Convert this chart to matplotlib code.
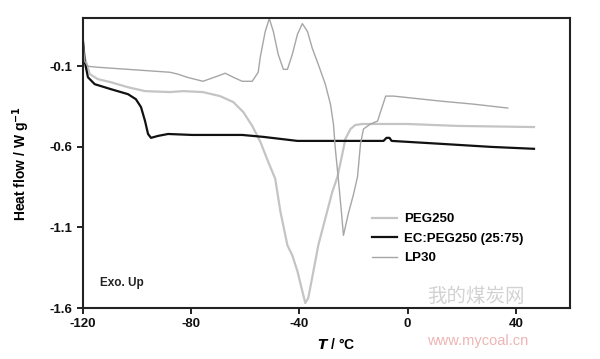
import matplotlib
matplotlib.use("Agg")
import matplotlib.pyplot as plt

# PEG250 (light grey, broad melting dip near -37 C)
peg_t = [-120, -119.3, -117.4, -114.4, -109.6, -103.3, -97.0, -87.8, -83.0, -75.6,
         -69.3, -64.4, -60.7, -57.4, -54.4, -51.5, -48.9, -47.0, -44.4, -42.6,
         -40.7, -38.9, -37.8, -36.7, -34.8, -33.0, -30.4, -27.8, -25.9, -24.1,
         -23.0, -21.1, -19.3, -16.7, 0.0, 18.5, 46.7]
peg_v = [0.067, -0.044, -0.149, -0.180, -0.199, -0.230, -0.254, -0.260, -0.254, -0.260,
         -0.285, -0.322, -0.384, -0.470, -0.569, -0.693, -0.798, -1.001, -1.211, -1.273,
         -1.372, -1.495, -1.569, -1.538, -1.372, -1.211, -1.044, -0.878, -0.785, -0.643,
         -0.551, -0.489, -0.464, -0.458, -0.458, -0.470, -0.477]

# EC:PEG250 (25:75), black
ec_t = [-120, -119.3, -118.1, -115.6, -109.6, -103.3, -100.4, -98.5, -97.0, -95.9,
        -94.8, -92.2, -88.5, -79.6, -61.1, -53.3, -40.7, -21.1, -8.9, -7.8,
        -6.7, -5.9, 12.2, 30.7, 46.7]
ec_v = [0.067, -0.069, -0.168, -0.211, -0.242, -0.273, -0.304, -0.353, -0.440, -0.520,
        -0.544, -0.532, -0.520, -0.526, -0.526, -0.538, -0.563, -0.563, -0.563, -0.544,
        -0.544, -0.563, -0.581, -0.600, -0.612]

# LP30 (mid grey, two exothermic peaks and a melting dip)
lp_t = [-120, -119.3, -118.1, -114.4, -103.3, -87.8, -84.8, -81.5, -75.6, -70.4,
        -67.4, -64.4, -61.1, -57.4, -55.2, -54.4, -52.6, -51.1, -49.6, -47.8,
        -45.9, -44.4, -42.6, -40.7, -38.9, -37.0, -35.2, -33.0, -30.4, -28.5,
        -27.4, -26.7, -25.6, -24.4, -23.7, -21.9, -20.0, -18.5, -17.4, -16.3,
        -13.7, -11.1, -8.1, -5.2, 12.2, 24.4, 37.0]
lp_v = [0.067, -0.069, -0.100, -0.106, -0.119, -0.137, -0.149, -0.168, -0.193, -0.162,
        -0.143, -0.168, -0.193, -0.193, -0.137, -0.040, 0.116, 0.196, 0.116, -0.026,
        -0.119, -0.119, -0.026, 0.098, 0.165, 0.116, 0.011, -0.088, -0.211, -0.335,
        -0.458, -0.612, -0.798, -1.014, -1.149, -1.014, -0.896, -0.785, -0.581, -0.489,
        -0.458, -0.440, -0.285, -0.285, -0.316, -0.335, -0.359]

x_ticks = [-120, -80, -40, 0, 40]
y_ticks = [-1.6, -1.1, -0.6, -0.1]

plt.rcParams['font.family'] = ['Liberation Sans', 'DejaVu Sans']
plt.rcParams['font.weight'] = 'bold'

fig = plt.figure(figsize=(6, 3.59), dpi=100)
ax = fig.add_axes([0.138, 0.142, 0.812, 0.808])

ax.plot(peg_t, peg_v, color='#c4c4c4', lw=1.6, label='PEG250')
ax.plot(ec_t, ec_v, color='#111111', lw=1.6, label='EC:PEG250 (25:75)')
ax.plot(lp_t, lp_v, color='#a6a6a6', lw=1.0, label='LP30')

ax.set_xlim(-120, 60)
ax.set_ylim(-1.6, 0.2)
ax.set_xticks(x_ticks)
ax.set_yticks(y_ticks)
ax.set_xticklabels([str(t) for t in x_ticks], fontsize=9.5, fontweight='bold')
ax.set_yticklabels([str(t) for t in y_ticks], fontsize=9.5, fontweight='bold')
ax.tick_params(direction='out', length=4, width=1.3, colors='#111111')
for s in ax.spines.values():
    s.set_linewidth(1.5)
    s.set_color('#222222')

ax.set_ylabel('Heat flow / W g$^{\\mathbf{-1}}$', fontsize=10, fontweight='bold')
ax.yaxis.set_label_coords(-0.105, 0.5)
ax.set_xlabel('$\\mathbfit{T}$ / °C', fontsize=10, fontweight='bold')
ax.xaxis.set_label_coords(0.52, -0.1)

ax.text(0.035, 0.075, 'Exo. Up', transform=ax.transAxes, fontsize=8.5,
        fontweight='bold', color='#222222')

ax.legend(loc='lower left', bbox_to_anchor=(0.57, 0.11), frameon=False,
          handlelength=1.9, handletextpad=0.5, labelspacing=0.55,
          prop={'weight': 'bold', 'size': 9.5})

# watermark: Chinese part just inside the frame, URL under the tick labels
fig.text(0.712, 0.175, '我的煤炭网', fontsize=14, color='#d2d2d2',
         family=['Noto Sans CJK SC', 'DejaVu Sans'], va='center', weight='normal')
fig.text(0.712, 0.05, 'www.mycoal.cn', fontsize=10.5, color='#eeb4b4',
         va='center', weight='normal')

fig.savefig('out.png', dpi=100)
